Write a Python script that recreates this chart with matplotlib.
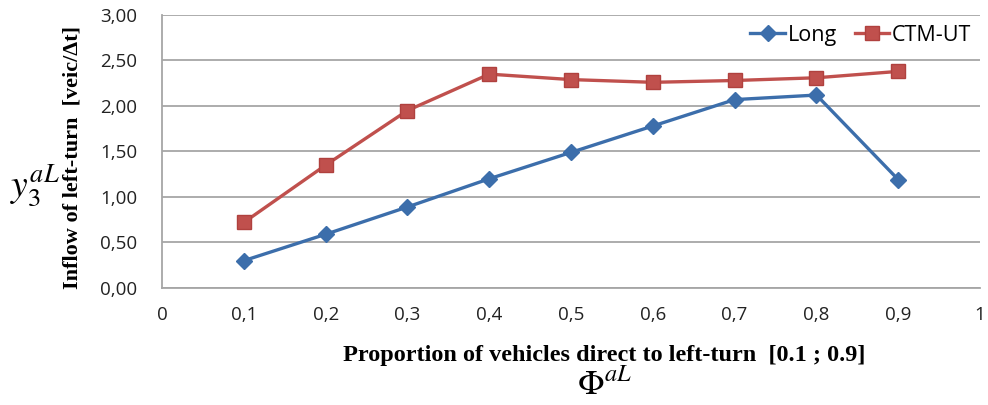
import matplotlib
matplotlib.use("Agg")
import matplotlib.pyplot as plt

x_vals = [0.1, 0.2, 0.3, 0.4, 0.5, 0.6, 0.7, 0.8, 0.9]
long_vals = [0.30, 0.59, 0.89, 1.20, 1.49, 1.78, 2.07, 2.12, 1.19]
ctm_vals = [0.72, 1.35, 1.95, 2.35, 2.29, 2.26, 2.28, 2.31, 2.38]
x_ticks = [0, 0.1, 0.2, 0.3, 0.4, 0.5, 0.6, 0.7, 0.8, 0.9, 1]
x_ticklabels = ["0", "0,1", "0,2", "0,3", "0,4", "0,5", "0,6", "0,7", "0,8", "0,9", "1"]
y_ticks = [0, 0.5, 1.0, 1.5, 2.0, 2.5, 3.0]
y_ticklabels = ["0,00", "0,50", "1,00", "1,50", "2,00", "2,50", "3,00"]

plt.rcParams['mathtext.fontset'] = 'stix'

fig = plt.figure(figsize=(9.88, 4.05), dpi=100)
ax = fig.add_axes([0.164, 0.289, 0.828, 0.674])

grid_c = '#A6A6A6'
for yv in y_ticks:
    ax.axhline(yv, color=grid_c, lw=1.3, zorder=1)

ax.plot(x_vals, long_vals, color='#3C6EAB', lw=2.4, marker='D', markersize=8.5,
        label='Long', zorder=3)
ax.plot(x_vals, ctm_vals, color='#C0504D', lw=2.4, marker='s', markersize=10.5,
        markeredgecolor='#B0413E', label='CTM-UT', zorder=3)

ax.set_xlim(0, 1)
ax.set_ylim(0, 3)
ax.set_xticks(x_ticks)
ax.set_xticklabels(x_ticklabels)
ax.set_yticks(y_ticks)
ax.set_yticklabels(y_ticklabels)
ax.tick_params(axis='both', length=0, labelsize=13.5, colors='#222222')
ax.tick_params(axis='x', pad=13)
ax.tick_params(axis='y', pad=18)
for lab in ax.get_xticklabels() + ax.get_yticklabels():
    lab.set_family('Open Sans')

for s in ['top', 'right']:
    ax.spines[s].set_visible(False)
for s in ['left', 'bottom']:
    ax.spines[s].set_color(grid_c)
    ax.spines[s].set_linewidth(1.3)

leg = ax.legend(loc='upper right', ncol=2, frameon=False, bbox_to_anchor=(1.008, 1.02),
                prop={'family': 'Open Sans', 'size': 15.5}, handlelength=1.6,
                columnspacing=0.8, handletextpad=0.15, borderaxespad=0.3)

fig.text(0.073, 0.61, "Inflow of left-turn  [veic/\u0394t]", rotation=90,
         family='Liberation Serif', weight='bold', fontsize=16,
         ha='center', va='center')
fig.text(0.035, 0.54, r'$y_3^{aL}$', fontsize=27, ha='center', va='center')
fig.text(0.612, 0.123, "Proportion of vehicles direct to left-turn  [0.1 ; 0.9]",
         family='Liberation Serif', weight='bold', fontsize=17.5,
         ha='center', va='center')
fig.text(0.612, 0.05, r'$\Phi^{aL}$', fontsize=25, ha='center', va='center')

fig.savefig('out.png', dpi=100)
